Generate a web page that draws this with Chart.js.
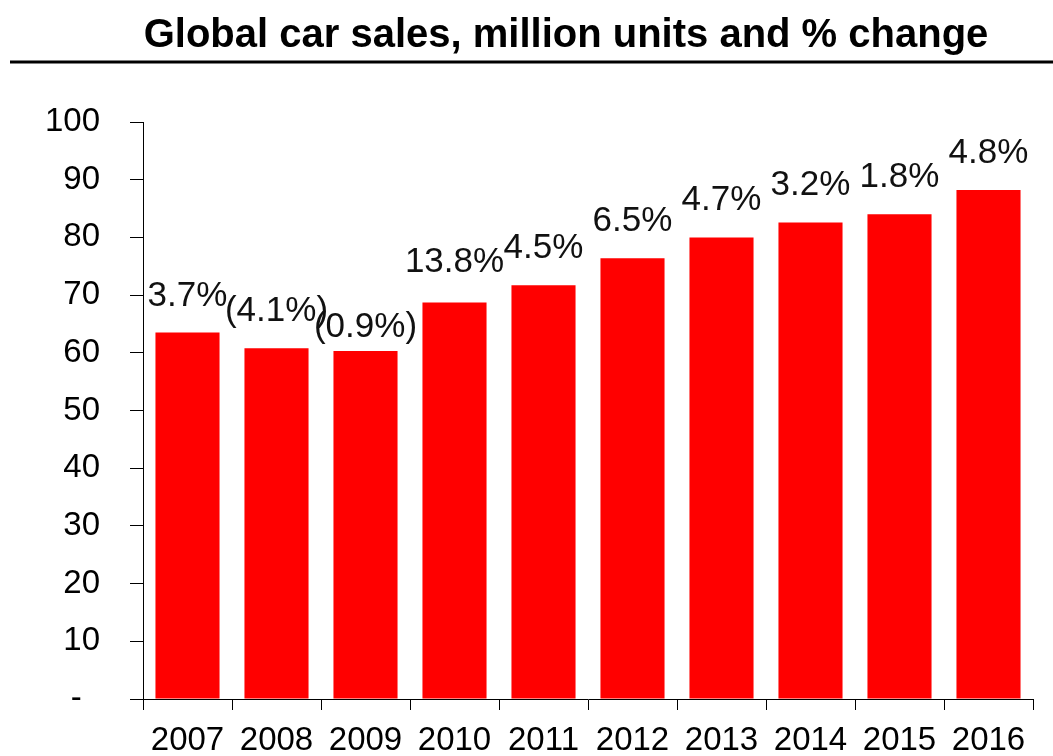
<!DOCTYPE html>
<html>
<head>
<meta charset="utf-8">
<script src="https://cdn.jsdelivr.net/npm/chart.js@4"></script>
<style>
  html, body { margin: 0; padding: 0; background: #fff; }
  canvas { display: block; }
</style>
</head>
<body>
<canvas id="salesChart" width="1053" height="756"></canvas>
<script>
// Data
const years = ['2007', '2008', '2009', '2010', '2011', '2012', '2013', '2014', '2015', '2016'];
const salesMillions = [63.5, 60.8, 60.3, 68.7, 71.7, 76.4, 80.0, 82.6, 84.0, 88.2];
const changeLabels = ['3.7%', '(4.1%)', '(0.9%)', '13.8%', '4.5%', '6.5%', '4.7%', '3.2%', '1.8%', '4.8%'];
const yTicks = [0, 10, 20, 30, 40, 50, 60, 70, 80, 90, 100];
const chartTitle = 'Global car sales, million units and % change';

const FONT = "'Liberation Sans', Arial, sans-serif";

// Title + underline
const titleBlock = {
    id: 'titleBlock',
    afterDraw(chart) {
        const ctx = chart.ctx;
        ctx.save();
        ctx.fillStyle = '#000';
        ctx.font = 'bold 40px ' + FONT;
        ctx.textAlign = 'center';
        ctx.textBaseline = 'middle';
        ctx.fillText(chartTitle, 566, 36);
        ctx.strokeStyle = '#000';
        ctx.lineWidth = 3;
        ctx.beginPath();
        ctx.moveTo(10, 62);
        ctx.lineTo(chart.width, 62);
        ctx.stroke();
        ctx.restore();
    }
};

// % change labels above bars
const labelNudge = { 2: 13, 3: -4 };
const barLabels = {
    id: 'barLabels',
    afterDatasetsDraw(chart) {
        const ctx = chart.ctx;
        const meta = chart.getDatasetMeta(0);
        ctx.save();
        ctx.font = '35px ' + FONT;
        ctx.fillStyle = '#111';
        ctx.textAlign = 'center';
        ctx.textBaseline = 'alphabetic';
        meta.data.forEach((bar, i) => {
            const nudge = labelNudge[i] || 0;
            ctx.fillText(changeLabels[i], bar.x, bar.y - 27 + nudge);
        });
        ctx.restore();
    }
};

Chart.defaults.font.family = FONT;
Chart.defaults.color = '#000';

const salesCtx = document.getElementById('salesChart').getContext('2d');
const salesChart = new Chart(salesCtx, {
    type: 'bar',
    data: {
        labels: years,
        datasets: [{
            label: 'Global car sales',
            data: salesMillions,
            backgroundColor: '#ff0000',
            borderWidth: 0,
            categoryPercentage: 1.0,
            barPercentage: 0.72
        }]
    },
    options: {
        responsive: false,
        animation: false,
        devicePixelRatio: 1,
        layout: {
            padding: { left: 0, right: 20, top: 122, bottom: 0 }
        },
        plugins: {
            legend: { display: false },
            tooltip: { enabled: false },
            title: { display: false }
        },
        scales: {
            x: {
                afterFit(scale) {
                    scale.height = 57;
                },
                grid: {
                    drawOnChartArea: false,
                    drawTicks: true,
                    tickLength: 11,
                    tickColor: '#000',
                    offset: true
                },
                border: { display: true, color: '#000', width: 1 },
                ticks: {
                    color: '#000',
                    font: { size: 33, family: FONT },
                    padding: 11,
                    maxRotation: 0,
                    autoSkip: false
                }
            },
            y: {
                min: 0,
                max: 100,
                afterBuildTicks(scale) {
                    scale.ticks = yTicks.map(v => ({ value: v }));
                },
                afterFit(scale) {
                    scale.width = 143;
                },
                grid: {
                    drawOnChartArea: false,
                    drawTicks: true,
                    tickLength: 13,
                    tickColor: '#000'
                },
                border: { display: true, color: '#000', width: 1 },
                ticks: {
                    color: '#000',
                    font: { size: 33, family: FONT },
                    padding: 30,
                    callback: (v) => v === 0 ? '-  ' : v
                }
            }
        }
    },
    plugins: [titleBlock, barLabels]
});
</script>
</body>
</html>
